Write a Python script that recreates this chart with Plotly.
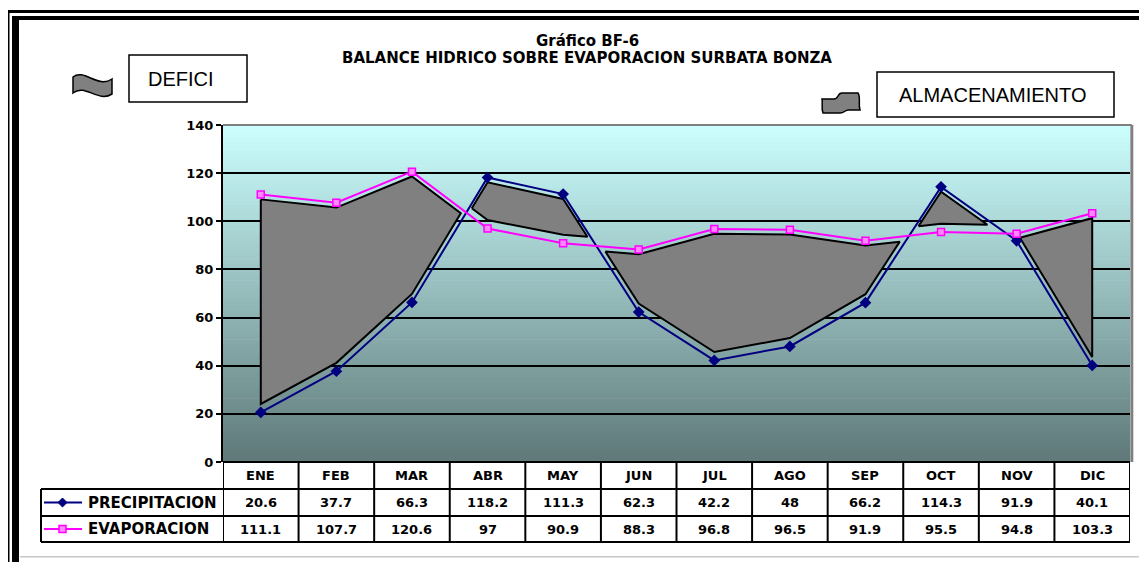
import plotly.graph_objects as go

# ---------------- data ----------------
months = ["ENE", "FEB", "MAR", "ABR", "MAY", "JUN", "JUL", "AGO", "SEP", "OCT", "NOV", "DIC"]
precipitacion = [20.6, 37.7, 66.3, 118.2, 111.3, 62.3, 42.2, 48, 66.2, 114.3, 91.9, 40.1]
evaporacion = [111.1, 107.7, 120.6, 97, 90.9, 88.3, 96.8, 96.5, 91.9, 95.5, 94.8, 103.3]
series_names = ["PRECIPITACION", "EVAPORACION"]
y_ticks = [0, 20, 40, 60, 80, 100, 120, 140]
title1 = "Gráfico BF-6"
title2 = "BALANCE HIDRICO SOBRE EVAPORACION SURBATA BONZA"
label_deficit = "DEFICI"
label_storage = "ALMACENAMIENTO"

# ---------------- layout geometry (window pixels) ----------------
WIN_W, WIN_H = 1147, 562
OFF = 8  # default page body margin
W, H = WIN_W - OFF, WIN_H - OFF
PL, PR, PT, PB = 223, 1130, 125, 462
PW, PH = PR - PL, PB - PT

def px(x):
    return (x - PL) / PW

def py(y):
    return (PB - y) / PH

NAVY = "#000080"
MAG = "#FF00FF"
BOLD = dict(family="DejaVu Sans", weight="bold", color="black")

shapes = []
annotations = []

def note(x, y, text, font, xref="paper", yref="paper", xanchor="center"):
    annotations.append(dict(x=x, y=y, xref=xref, yref=yref, text=text, showarrow=False,
                            xanchor=xanchor, yanchor="middle", font=font))

# gradient background (plot area)
top_c = (204, 255, 255)
bot_c = (95, 120, 120)
NB = 80
for k in range(NB):
    f0 = k / NB
    f1 = (k + 1) / NB
    fm = (f0 + f1) / 2
    c = tuple(int(round(bot_c[j] + (top_c[j] - bot_c[j]) * fm)) for j in range(3))
    shapes.append(dict(type="rect", xref="paper", yref="paper", x0=0, x1=1,
                       y0=f0, y1=f1 + 0.002, line=dict(width=0),
                       fillcolor="rgb(%d,%d,%d)" % c, layer="below"))

# plot area border (top/right gray)
shapes.append(dict(type="line", xref="paper", yref="paper", x0=0, x1=1.002, y0=1, y1=1,
                   line=dict(color="#808080", width=2)))
shapes.append(dict(type="line", xref="paper", yref="paper", x0=1.002, x1=1.002, y0=0, y1=1,
                   line=dict(color="#808080", width=3)))

# ---------------- deficit / storage polygons derived from data ----------------
def band_polys(upper, lower, du, dl):
    n = len(upper)
    g = [u - l - du - dl for u, l in zip(upper, lower)]
    polys = []
    top, bot = [], []
    for i in range(n):
        if g[i] > 0:
            if not top and i > 0 and g[i - 1] <= 0:
                t = g[i - 1] / (g[i - 1] - g[i])
                top.append((i - 1 + t, upper[i - 1] + t * (upper[i] - upper[i - 1]) - du))
            top.append((i, upper[i] - du))
            bot.append((i, lower[i] + dl))
            if i == n - 1 or g[i + 1] <= 0:
                if i < n - 1:
                    t = g[i] / (g[i] - g[i + 1])
                    top.append((i + t, upper[i] + t * (upper[i + 1] - upper[i]) - du))
                polys.append(top + bot[::-1])
                top, bot = [], []
    return polys

fig = go.Figure()

polys = band_polys(evaporacion, precipitacion, 2, 3.5) + band_polys(precipitacion, evaporacion, 2, 3.5)
for poly in polys:
    xs = [p[0] for p in poly] + [poly[0][0]]
    ys = [p[1] for p in poly] + [poly[0][1]]
    fig.add_trace(go.Scatter(x=xs, y=ys, mode="lines", fill="toself", fillcolor="#808080",
                             line=dict(color="black", width=2), hoverinfo="skip", showlegend=False))

xi = list(range(len(months)))
fig.add_trace(go.Scatter(x=xi, y=precipitacion, name=series_names[0], mode="lines+markers",
                         line=dict(color=NAVY, width=2),
                         marker=dict(symbol="diamond", size=9, color=NAVY), showlegend=False))
fig.add_trace(go.Scatter(x=xi, y=evaporacion, name=series_names[1], mode="lines+markers",
                         line=dict(color=MAG, width=2),
                         marker=dict(symbol="square", size=7, color="#FF88FF",
                                     line=dict(color=MAG, width=1.5)), showlegend=False))

# ---------------- data table ----------------
rows_px = [462, 489, 516, 542]
ry = [py(v) for v in rows_px]
LEFT = px(41)
lw = 2
shapes.append(dict(type="line", xref="paper", yref="paper", x0=0, x1=1, y0=ry[0], y1=ry[0],
                   line=dict(color="black", width=lw)))
for r in ry[1:]:
    shapes.append(dict(type="line", xref="paper", yref="paper", x0=LEFT, x1=1, y0=r, y1=r,
                       line=dict(color="black", width=lw)))
for k in range(len(months) + 1):
    shapes.append(dict(type="line", xref="x", yref="paper", x0=k - 0.5, x1=k - 0.5,
                       y0=ry[0], y1=ry[3], line=dict(color="black", width=lw)))
shapes.append(dict(type="line", xref="paper", yref="paper", x0=LEFT, x1=LEFT,
                   y0=ry[1], y1=ry[3], line=dict(color="black", width=lw)))

for i, m in enumerate(months):
    note(i, (ry[0] + ry[1]) / 2, m, dict(size=13, **BOLD), xref="x")
    note(i, (ry[1] + ry[2]) / 2, "%g" % precipitacion[i], dict(size=13, **BOLD), xref="x")
    note(i, (ry[2] + ry[3]) / 2, "%g" % evaporacion[i], dict(size=13, **BOLD), xref="x")

# legend keys inside table
for j, (name, col) in enumerate(zip(series_names, [NAVY, MAG])):
    yc = (ry[1 + j] + ry[2 + j]) / 2
    shapes.append(dict(type="line", xref="paper", yref="paper", x0=px(44), x1=px(82), y0=yc, y1=yc,
                       line=dict(color=col, width=2)))
    note(px(86), yc, name, dict(size=15, **BOLD), xanchor="left")
cy = (rows_px[1] + rows_px[2]) / 2
shapes.append(dict(type="path", xref="paper", yref="paper",
                   path="M %f,%f L %f,%f L %f,%f L %f,%f Z" % (px(58), py(cy), px(62.5), py(cy - 4.5),
                                                            px(67), py(cy), px(62.5), py(cy + 4.5)),
                   fillcolor=NAVY, line=dict(color=NAVY, width=1)))
cy2 = (rows_px[2] + rows_px[3]) / 2
shapes.append(dict(type="rect", xref="paper", yref="paper", x0=px(59), x1=px(66), y0=py(cy2 + 3.5),
                   y1=py(cy2 - 3.5), fillcolor="#FF88FF", line=dict(color=MAG, width=1.5)))

# ---------------- legend boxes with icons ----------------
shapes.append(dict(type="rect", xref="paper", yref="paper", x0=px(129), x1=px(247), y0=py(102), y1=py(55),
                   line=dict(color="black", width=1.5), fillcolor="white"))
note(px(181), py(79), label_deficit, dict(family="Liberation Sans", size=20, color="black"))
shapes.append(dict(type="rect", xref="paper", yref="paper", x0=px(877), x1=px(1114), y0=py(117), y1=py(72),
                   line=dict(color="black", width=1.5), fillcolor="white"))
note(px(992), py(95), label_storage, dict(family="Liberation Sans", size=20, color="black"))

def path_px(cmds):
    out = []
    for c in cmds:
        if isinstance(c, str):
            out.append(c)
        else:
            out.append("%f,%f" % (px(c[0]), py(c[1])))
    return " ".join(out)

icon1 = path_px(["M", (73, 77), "C", (84, 68), (98, 89), (112, 79), "L", (112, 94),
                 "C", (98, 103), (85, 83), (73, 93), "Z"])
shapes.append(dict(type="path", xref="paper", yref="paper", path=icon1, fillcolor="#808080",
                   line=dict(color="black", width=1.5)))
icon2 = path_px(["M", (822, 99), "L", (834, 99), "C", (839, 99), (837, 93), (842, 93), "L", (858, 93),
                 "C", (861, 97), (858, 104), (860, 110), "L", (849, 110), "C", (844, 110), (845, 113), (840, 113),
                 "L", (823, 113), "C", (821, 108), (823, 103), (822, 99), "Z"])
shapes.append(dict(type="path", xref="paper", yref="paper", path=icon2, fillcolor="#808080",
                   line=dict(color="black", width=1.5)))

# ---------------- titles ----------------
note(px(587), py(41), title1, dict(size=15, **BOLD))
note(px(587), py(58), title2, dict(size=15, **BOLD))

# ---------------- outer frame ----------------
def rect_px(x0, y0, x1, y1, color="black"):
    shapes.append(dict(type="rect", xref="paper", yref="paper", x0=px(x0), x1=px(x1), y0=py(y1), y1=py(y0),
                       line=dict(width=0), fillcolor=color))

rect_px(7, 10, 1150, 13)
rect_px(12, 16, 1150, 20)
rect_px(7, 10, 9.5, 566)
rect_px(12, 16, 19, 566)
rect_px(20, 556, 1150, 557.5, "#C8C8C8")

fig.update_layout(
    width=W, height=H, autosize=False,
    margin=dict(l=PL - OFF, r=WIN_W - PR, t=PT - OFF, b=WIN_H - PB, pad=0),
    paper_bgcolor="white", plot_bgcolor="rgba(0,0,0,0)",
    showlegend=False,
    shapes=shapes, annotations=annotations,
    xaxis=dict(range=[-0.5, len(months) - 0.5], showgrid=False, zeroline=False, showticklabels=False,
               ticks="", showline=False, fixedrange=True),
    yaxis=dict(range=[0, 140], tickvals=y_ticks, showgrid=True, gridcolor="black", gridwidth=1.5,
               zeroline=False, showline=True, linecolor="black", linewidth=2, ticks="outside",
               ticklen=5, tickwidth=2, tickcolor="black", tickfont=dict(size=13, **BOLD),
               fixedrange=True),
)

fig.write_html("out.html")
